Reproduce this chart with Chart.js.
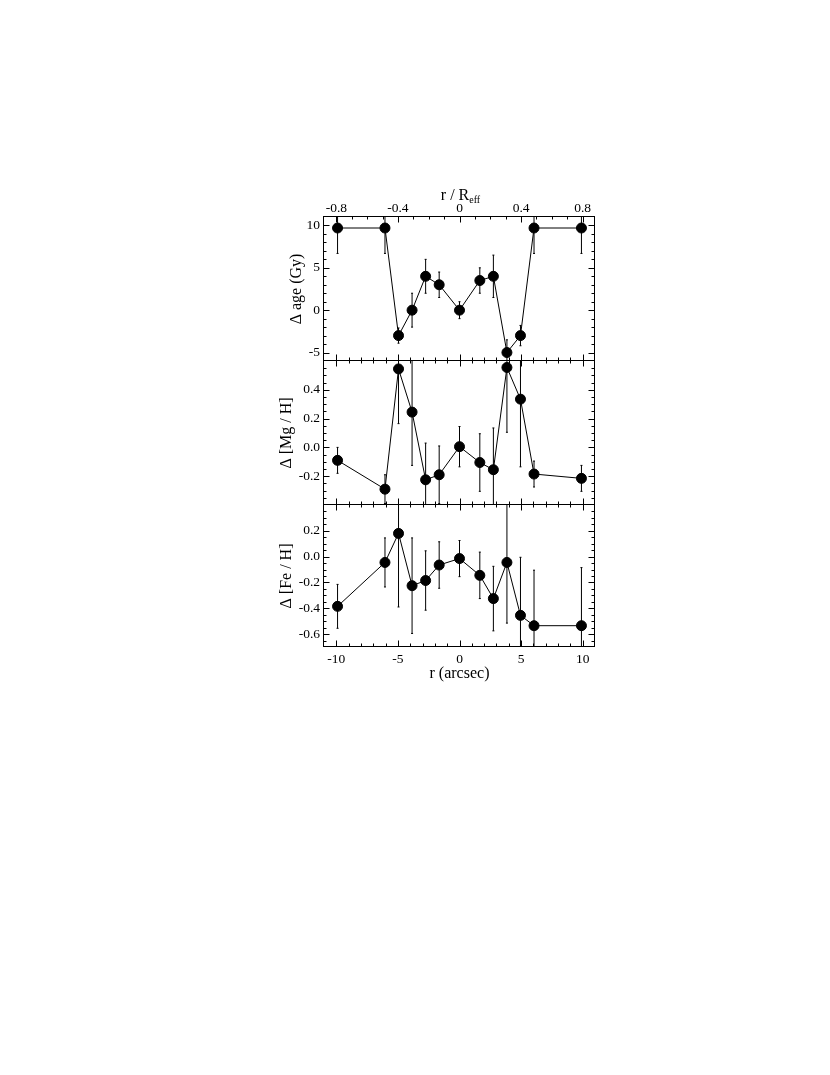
<!DOCTYPE html>
<html>
<head>
<meta charset="utf-8">
<script src="https://cdn.jsdelivr.net/npm/chart.js@4.4.1/dist/chart.umd.min.js"></script>
<style>
  html, body { margin: 0; padding: 0; background: #fff; }
  #wrap { position: relative; width: 830px; height: 1075px; }
  #wrap canvas { position: absolute; left: 0; top: 0; }
</style>
</head>
<body>
<div id="wrap">
  <canvas id="c-age" width="830" height="1075"></canvas>
  <canvas id="c-mg" width="830" height="1075"></canvas>
  <canvas id="c-fe" width="830" height="1075"></canvas>
</div>
<script>
// radius in arcsec (bottom axis); top axis is r / R_eff = 0.08 * r
const R_ARCSEC = [-9.9, -6.05, -4.95, -3.85, -2.75, -1.65, 0, 1.65, 2.75, 3.85, 4.95, 6.05, 9.9];

const AGE     = [9.7, 9.7, -3, 0, 4, 3, 0, 3.5, 4, -5, -3, 9.7, 9.7];
const AGE_ERR = [3, 3, 0.9, 2, 2, 1.5, 1, 1.5, 2.5, 1.5, 1.2, 3, 3];

const MG     = [-0.09, -0.29, 0.545, 0.245, -0.225, -0.19, 0.005, -0.105, -0.155, 0.555, 0.335, -0.185, -0.215];
const MG_ERR = [0.09, 0.1, 0.38, 0.37, 0.255, 0.2, 0.14, 0.2, 0.29, 0.45, 0.47, 0.09, 0.09];

const FE     = [-0.385, -0.045, 0.18, -0.225, -0.185, -0.065, -0.015, -0.145, -0.325, -0.045, -0.455, -0.535, -0.535];
const FE_ERR = [0.17, 0.19, 0.57, 0.37, 0.23, 0.18, 0.14, 0.18, 0.25, 0.47, 0.45, 0.43, 0.45];

const X_TICKS   = [-10, -5, 0, 5, 10];
const TOP_TICKS = [-0.8, -0.4, 0, 0.4, 0.8];
const AGE_TICKS = [-5, 0, 5, 10];
const MG_TICKS  = [-0.2, 0, 0.2, 0.4];
const FE_TICKS  = [-0.6, -0.4, -0.2, 0, 0.2];

Chart.defaults.font.family = "'Liberation Serif', 'Times New Roman', serif";
Chart.defaults.color = '#000';

const PAGE_H = 1075;
const FRAME_L = 324, FRAME_R = 595;
const TOP_AXIS_H = 20, BOTTOM_AXIS_H = 36;

// ── tick marks drawn inward on all four sides ─────────
function sideTicks(ctx, scale, min, max, step, major, horiz, base, dir) {
  const n0 = Math.ceil(min / step - 1e-6), n1 = Math.floor(max / step + 1e-6);
  for (let k = n0; k <= n1; k++) {
    const v = k * step;
    if (Math.abs(v - min) < 1e-6 || Math.abs(v - max) < 1e-6) continue;
    const isMajor = Math.abs(v / major - Math.round(v / major)) < 1e-6;
    const len = isMajor ? 6 : 3;
    const p = Math.round(scale.getPixelForValue(v)) + 0.5;
    ctx.beginPath();
    if (horiz) { ctx.moveTo(p, base); ctx.lineTo(p, base + dir * len); }
    else { ctx.moveTo(base, p); ctx.lineTo(base + dir * len, p); }
    ctx.stroke();
  }
}

const panelPlugin = {
  id: 'panelDeco',
  beforeDatasetsDraw(chart) {
    const { ctx, chartArea: a } = chart;
    const xs = chart.scales.x, ys = chart.scales.y;
    const ds = chart.data.datasets[0];
    ctx.save();
    ctx.beginPath();
    ctx.rect(a.left, a.top, a.right - a.left, a.bottom - a.top);
    ctx.clip();
    ctx.strokeStyle = '#000';
    ctx.lineWidth = 1;
    ds.data.forEach(function (pt, i) {
      const e = ds.err[i];
      const px = xs.getPixelForValue(pt.x);
      const y1 = ys.getPixelForValue(pt.y - e), y2 = ys.getPixelForValue(pt.y + e);
      ctx.beginPath();
      ctx.moveTo(px, y1); ctx.lineTo(px, y2);
      ctx.moveTo(px - 1, y1); ctx.lineTo(px + 1, y1);
      ctx.moveTo(px - 1, y2); ctx.lineTo(px + 1, y2);
      ctx.stroke();
    });
    ctx.restore();
  },
  afterDraw(chart) {
    const { ctx, chartArea: a, scales } = chart;
    const o = chart.options.plugins.panelDeco;
    ctx.save();
    ctx.strokeStyle = '#000';
    ctx.lineWidth = 1;
    const L = a.left - 0.5, R = a.right - 0.5, T = a.top - 0.5, B = a.bottom - 0.5;
    ctx.strokeRect(L, T, R - L, B - T);

    const xs = scales.x, ys = scales.y;
    sideTicks(ctx, xs, -11, 11, 1, 5, true, B, -1);
    if (o.topAxis) sideTicks(ctx, scales.xTop, -0.88, 0.88, 0.1, 0.4, true, T, 1);
    else sideTicks(ctx, xs, -11, 11, 1, 5, true, T, 1);
    sideTicks(ctx, ys, ys.min, ys.max, o.yMinor, o.yMajor, false, L, 1);
    sideTicks(ctx, ys, ys.min, ys.max, o.yMinor, o.yMajor, false, R, -1);

    if (o.topAxis) {
      // r / R_eff with subscript
      const cx = (a.left + a.right) / 2 + 1;
      ctx.fillStyle = '#000';
      ctx.textBaseline = 'alphabetic';
      ctx.font = "16px 'Liberation Serif', 'Times New Roman', serif";
      const main = 'r / R';
      const wMain = ctx.measureText(main).width;
      ctx.font = "10px 'Liberation Serif', 'Times New Roman', serif";
      const wSub = ctx.measureText('eff').width;
      const x0 = cx - (wMain + wSub) / 2;
      ctx.font = "16px 'Liberation Serif', 'Times New Roman', serif";
      ctx.textAlign = 'left';
      ctx.fillText(main, x0, a.top - 17);
      ctx.font = "10px 'Liberation Serif', 'Times New Roman', serif";
      ctx.fillText('eff', x0 + wMain, a.top - 14);
    }
    ctx.restore();
  }
};

function makePanel(canvasId, p) {
  const scales = {
    x: {
      type: 'linear', position: 'bottom', min: -11, max: 11,
      display: p.bottomAxis,
      grid: { display: false, drawTicks: false },
      border: { display: false },
      ticks: { font: { size: 13.5 }, padding: 4, maxRotation: 0, autoSkip: false,
               callback: function (v) { return String(v); } },
      afterBuildTicks: function (s) { s.ticks = X_TICKS.map(function (v) { return { value: v }; }); },
      afterFit: function (s) { s.height = p.bottomAxis ? BOTTOM_AXIS_H : 0; },
      title: { display: true, text: 'r (arcsec)', font: { size: 16 }, padding: 0 }
    },
    y: {
      type: 'linear', position: 'left', min: p.yMin, max: p.yMax,
      grid: { display: false, drawTicks: false },
      border: { display: false },
      ticks: { font: { size: 13.5 }, padding: 4, autoSkip: false, callback: p.fmt },
      afterBuildTicks: function (s) { s.ticks = p.yTicks.map(function (v) { return { value: v }; }); },
      afterFit: function (s) { s.width = p.yWidth; },
      title: { display: true, text: p.title, font: { size: 16 }, padding: 0 }
    }
  };
  if (p.topAxis) {
    scales.xTop = {
      type: 'linear', position: 'top', min: -0.88, max: 0.88,
      grid: { display: false, drawTicks: false },
      border: { display: false },
      ticks: { font: { size: 13.5 }, padding: 0, maxRotation: 0, autoSkip: false,
               callback: function (v) { return String(v); } },
      afterBuildTicks: function (s) { s.ticks = TOP_TICKS.map(function (v) { return { value: v }; }); },
      afterFit: function (s) { s.height = TOP_AXIS_H; }
    };
  }

  return new Chart(document.getElementById(canvasId), {
    type: 'line',
    data: {
      datasets: [{
        data: R_ARCSEC.map(function (x, i) { return { x: x, y: p.values[i] }; }),
        err: p.errors,
        borderColor: '#000',
        borderWidth: 1,
        tension: 0,
        pointRadius: 5,
        pointBorderWidth: 1,
        pointBackgroundColor: '#000',
        pointBorderColor: '#000'
      }]
    },
    options: {
      responsive: false,
      devicePixelRatio: 1,
      animation: false,
      events: [],
      layout: {
        padding: {
          left: FRAME_L - p.yWidth,
          right: 830 - FRAME_R,
          top: p.top - (p.topAxis ? TOP_AXIS_H : 0),
          bottom: PAGE_H - p.bottom - (p.bottomAxis ? BOTTOM_AXIS_H : 0)
        }
      },
      scales: scales,
      plugins: {
        legend: { display: false },
        tooltip: { enabled: false },
        panelDeco: { topAxis: p.topAxis, yMinor: p.yMinor, yMajor: p.yMajor }
      }
    },
    plugins: [panelPlugin]
  });
}

makePanel('c-age', {
  top: 217, bottom: 361, topAxis: true, bottomAxis: false,
  yMin: -6, yMax: 11, yTicks: AGE_TICKS, yMajor: 5, yMinor: 1, yWidth: 37,
  fmt: function (v) { return String(v); },
  title: '\u0394 age (Gy)', values: AGE, errors: AGE_ERR
});

makePanel('c-mg', {
  top: 361, bottom: 505, topAxis: false, bottomAxis: false,
  yMin: -0.4, yMax: 0.6, yTicks: MG_TICKS, yMajor: 0.2, yMinor: 0.05, yWidth: 47,
  fmt: function (v) { return v.toFixed(1); },
  title: '\u0394 [Mg / H]', values: MG, errors: MG_ERR
});

makePanel('c-fe', {
  top: 505, bottom: 647, topAxis: false, bottomAxis: true,
  yMin: -0.7, yMax: 0.4, yTicks: FE_TICKS, yMajor: 0.2, yMinor: 0.05, yWidth: 47,
  fmt: function (v) { return v.toFixed(1); },
  title: '\u0394 [Fe / H]', values: FE, errors: FE_ERR
});
</script>
</body>
</html>
